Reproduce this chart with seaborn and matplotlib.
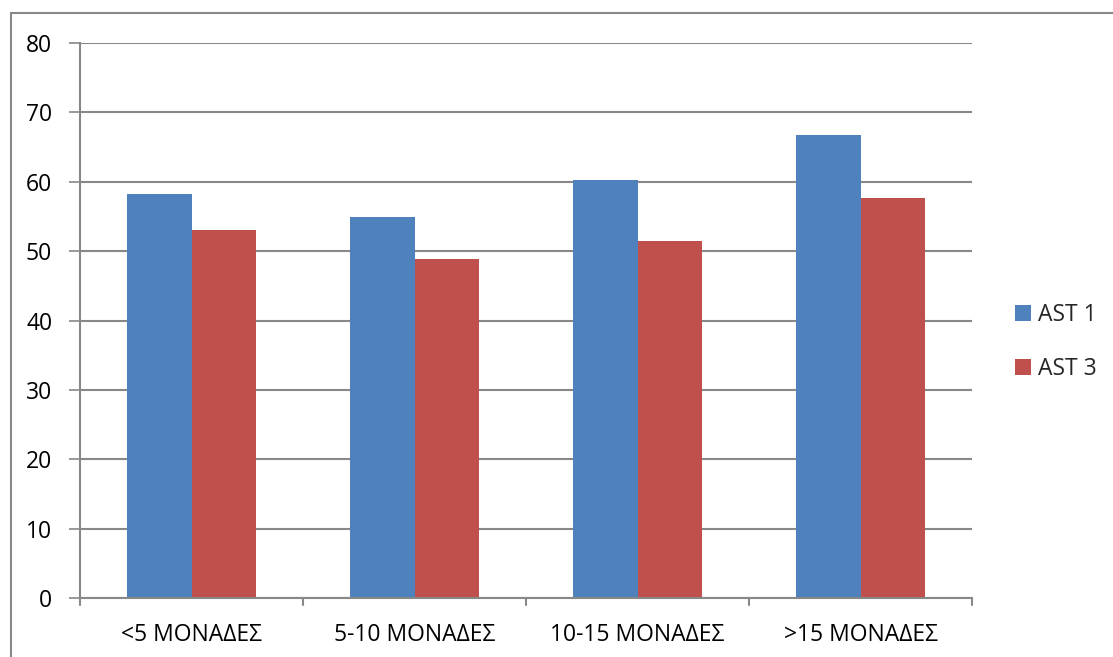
import matplotlib
matplotlib.use("Agg")
import matplotlib.pyplot as plt
import seaborn as sns
import pandas as pd
from matplotlib.patches import Rectangle

categories = ["<5 ΜΟΝΑΔΕΣ", "5-10 ΜΟΝΑΔΕΣ", "10-15 ΜΟΝΑΔΕΣ", ">15 ΜΟΝΑΔΕΣ"]
series_names = ["AST 1", "AST 3"]
ast1 = [58.3, 55.0, 60.3, 66.8]
ast3 = [53.0, 48.9, 51.5, 57.7]
y_ticks = [0, 10, 20, 30, 40, 50, 60, 70, 80]

df = pd.DataFrame({
    "cat": categories * 2,
    "series": [series_names[0]] * 4 + [series_names[1]] * 4,
    "value": ast1 + ast3,
})

sns.set_theme(style="white")
plt.rcParams["font.family"] = ["Open Sans", "DejaVu Sans"]

FS = 16.5
W, H = 1113, 657
fig = plt.figure(figsize=(W / 100, H / 100), dpi=100)
ax = fig.add_axes([80 / W, 1 - 598.3 / H, (972 - 80) / W, (598.3 - 43) / H])

sns.barplot(data=df, x="cat", y="value", hue="series",
            palette=["#4F81BD", "#C0504D"], width=0.574, gap=0,
            saturation=1, ax=ax, edgecolor="none", linewidth=0)

ax.set_ylim(0, 80)
ax.set_xlim(-0.5, 3.5)
ax.set_yticks(y_ticks)
ax.set_yticklabels([str(v) for v in y_ticks], fontsize=FS)
ax.set_xlabel("")
ax.set_ylabel("")
ax.tick_params(axis="x", labelsize=FS, length=0, pad=18, colors="black")
ax.tick_params(axis="y", length=8, width=1.2, color="#888888", pad=12,
               left=True, labelcolor="black")

ax.yaxis.grid(True, color="#888888", linewidth=1.5)
ax.set_axisbelow(True)
for s in ["top", "right"]:
    ax.spines[s].set_visible(False)
for s in ["left", "bottom"]:
    ax.spines[s].set_color("#888888")
    ax.spines[s].set_linewidth(1.5)

# category separator ticks on the x axis
for b in [-0.5, 0.5, 1.5, 2.5, 3.5]:
    ax.plot([b, b], [0, -0.012], transform=ax.get_xaxis_transform(),
            color="#888888", lw=1.5, clip_on=False)

leg = ax.legend(loc="center left", bbox_to_anchor=(1.025, 0.462), frameon=False,
                fontsize=FS, handlelength=0.7, handleheight=0.7,
                handletextpad=0.3, labelspacing=1.3)

# outer chart border
fig.add_artist(Rectangle((11 / W, -0.01), (W + 10) / W, 1 - 13 / H + 0.01,
                         transform=fig.transFigure, fill=False,
                         edgecolor="#888888", linewidth=1.5))

fig.savefig("out.png", dpi=100)
